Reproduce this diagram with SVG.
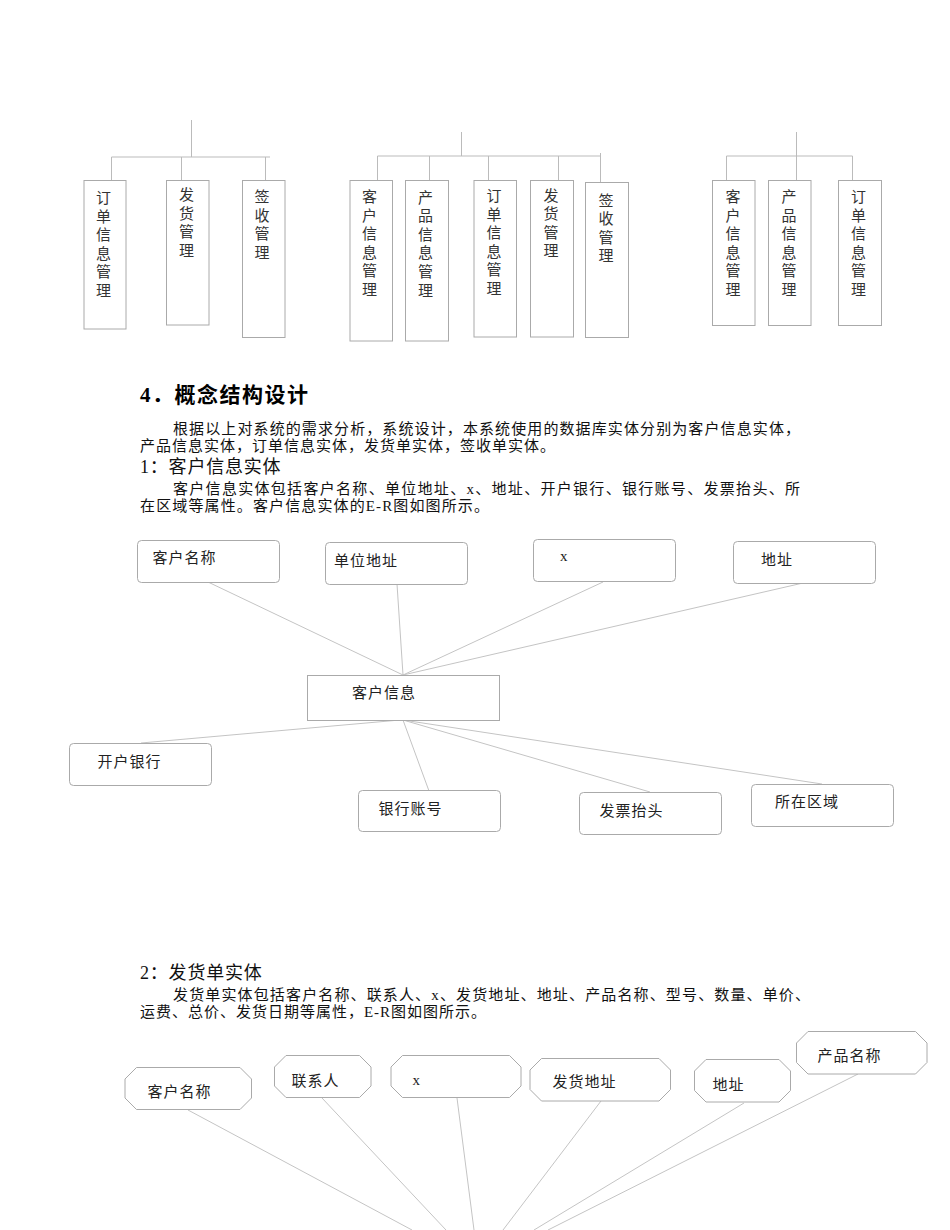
<svg xmlns="http://www.w3.org/2000/svg" width="950" height="1230" viewBox="0 0 950 1230">
<style>
.tl{stroke:#bbbbbb;stroke-width:1;fill:none}
.tb{fill:#fff;stroke:#aaaaaa;stroke-width:1}
.tt{font-family:"Noto Sans CJK SC",sans-serif;font-size:15px;fill:#333;text-anchor:middle}
.eb{fill:#fff;stroke:#aaaaaa;stroke-width:1}
.el{stroke:#c4c4c4;stroke-width:1;fill:none}
.et{font-family:"Liberation Serif","Noto Sans CJK SC",serif;font-size:15px;letter-spacing:1px;fill:#222}
.p{font-family:"Liberation Serif","Noto Sans CJK SC",serif;font-size:15px;letter-spacing:1px;fill:#111}
.h{font-family:"Liberation Serif","Noto Sans CJK SC",serif;font-size:21px;font-weight:bold;letter-spacing:1.5px;fill:#000}
.s{font-family:"Liberation Serif","Noto Sans CJK SC",serif;font-size:18px;letter-spacing:0.8px;fill:#111}
</style>
<rect width="950" height="1230" fill="#fff"/>

<g id="tree-connectors">
<path class="tl" d="M191.5 120V157M111.5 157H270M111.5 157V180M181.5 157V181M265.5 157V180"/>
<path class="tl" d="M461.5 132V156M377.5 156H600.5M377.5 156V180M429.5 156V180M488.5 156V180M558.5 156V181M600.5 153V182"/>
<path class="tl" d="M796.5 132V156M726.5 156H852.5M726.5 156V180M796.5 156V180M852.5 156V180"/>
</g>

<g id="t-l1"><rect class="tb" x="84" y="180.5" width="42" height="148.5"/><text class="tt"><tspan x="103.5" y="203">订</tspan><tspan x="103.5" y="221.6">单</tspan><tspan x="103.5" y="240.2">信</tspan><tspan x="103.5" y="258.8">息</tspan><tspan x="103.5" y="277.4">管</tspan><tspan x="103.5" y="296">理</tspan></text></g>
<g id="t-l2"><rect class="tb" x="166.5" y="180.5" width="42.5" height="144.5"/><text class="tt"><tspan x="186.5" y="200">发</tspan><tspan x="186.5" y="218.6">货</tspan><tspan x="186.5" y="237.2">管</tspan><tspan x="186.5" y="255.8">理</tspan></text></g>
<g id="t-l3"><rect class="tb" x="242.5" y="180.5" width="42.5" height="157"/><text class="tt"><tspan x="262" y="202">签</tspan><tspan x="262" y="220.6">收</tspan><tspan x="262" y="239.2">管</tspan><tspan x="262" y="257.8">理</tspan></text></g>

<g id="t-m1"><rect class="tb" x="350" y="180.5" width="42.5" height="160.5"/><text class="tt"><tspan x="369.5" y="202">客</tspan><tspan x="369.5" y="220.6">户</tspan><tspan x="369.5" y="239.2">信</tspan><tspan x="369.5" y="257.8">息</tspan><tspan x="369.5" y="276.4">管</tspan><tspan x="369.5" y="295">理</tspan></text></g>
<g id="t-m2"><rect class="tb" x="405.5" y="180.5" width="43" height="160.5"/><text class="tt"><tspan x="425.5" y="202.5">产</tspan><tspan x="425.5" y="221.1">品</tspan><tspan x="425.5" y="239.7">信</tspan><tspan x="425.5" y="258.3">息</tspan><tspan x="425.5" y="276.9">管</tspan><tspan x="425.5" y="295.5">理</tspan></text></g>
<g id="t-m3"><rect class="tb" x="474" y="180.5" width="42.5" height="156.5"/><text class="tt"><tspan x="494" y="201">订</tspan><tspan x="494" y="219.6">单</tspan><tspan x="494" y="238.2">信</tspan><tspan x="494" y="256.8">息</tspan><tspan x="494" y="275.4">管</tspan><tspan x="494" y="294">理</tspan></text></g>
<g id="t-m4"><rect class="tb" x="530.5" y="180.5" width="43" height="156.5"/><text class="tt"><tspan x="551" y="200.5">发</tspan><tspan x="551" y="219.1">货</tspan><tspan x="551" y="237.7">管</tspan><tspan x="551" y="256.3">理</tspan></text></g>
<g id="t-m5"><rect class="tb" x="585.5" y="182.5" width="43" height="155"/><text class="tt"><tspan x="606" y="205.5">签</tspan><tspan x="606" y="224.1">收</tspan><tspan x="606" y="242.7">管</tspan><tspan x="606" y="261.3">理</tspan></text></g>

<g id="t-r1"><rect class="tb" x="712.5" y="180.5" width="42.5" height="145"/><text class="tt"><tspan x="733" y="202">客</tspan><tspan x="733" y="220.6">户</tspan><tspan x="733" y="239.2">信</tspan><tspan x="733" y="257.8">息</tspan><tspan x="733" y="276.4">管</tspan><tspan x="733" y="295">理</tspan></text></g>
<g id="t-r2"><rect class="tb" x="768.5" y="180.5" width="42.5" height="145"/><text class="tt"><tspan x="789" y="202">产</tspan><tspan x="789" y="220.6">品</tspan><tspan x="789" y="239.2">信</tspan><tspan x="789" y="257.8">息</tspan><tspan x="789" y="276.4">管</tspan><tspan x="789" y="295">理</tspan></text></g>
<g id="t-r3"><rect class="tb" x="838.5" y="180.5" width="43" height="145"/><text class="tt"><tspan x="858.5" y="202">订</tspan><tspan x="858.5" y="220.6">单</tspan><tspan x="858.5" y="239.2">信</tspan><tspan x="858.5" y="257.8">息</tspan><tspan x="858.5" y="276.4">管</tspan><tspan x="858.5" y="295">理</tspan></text></g>

<g id="text-block">
<text class="h" x="140" y="402">4．概念结构设计</text>
<text class="p" x="173" y="434" textLength="628" lengthAdjust="spacing">根据以上对系统的需求分析，系统设计，本系统使用的数据库实体分别为客户信息实体，</text>
<text class="p" x="140" y="451" textLength="416" lengthAdjust="spacing">产品信息实体，订单信息实体，发货单实体，签收单实体。</text>
<text class="s" x="140" y="473">1：客户信息实体</text>
<text class="p" x="173" y="494" textLength="628" lengthAdjust="spacing">客户信息实体包括客户名称、单位地址、x、地址、开户银行、银行账号、发票抬头、所</text>
<text class="p" x="140" y="511" textLength="350" lengthAdjust="spacing">在区域等属性。客户信息实体的E-R图如图所示。</text>
<text class="s" x="140" y="979">2：发货单实体</text>
<text class="p" x="173" y="1000" textLength="638" lengthAdjust="spacing">发货单实体包括客户名称、联系人、x、发货地址、地址、产品名称、型号、数量、单价、</text>
<text class="p" x="140" y="1017" textLength="347" lengthAdjust="spacing">运费、总价、发货日期等属性，E-R图如图所示。</text>
</g>

<g id="er1-connectors">
<path class="el" d="M208 582L403 675M397 584L403 675M603 582L403 675M803 583L403 675"/>
<path class="el" d="M400 720L141 743M403 720L429 791M403 720L650 792M403 720L822 784"/>
</g>
<g id="e1-name"><rect class="eb" x="137.5" y="540.5" width="142" height="42" rx="4"/><text class="et" x="152.5" y="563">客户名称</text></g>
<g id="e1-unit"><rect class="eb" x="325.5" y="542.5" width="142" height="42" rx="4"/><text class="et" x="334" y="566">单位地址</text></g>
<g id="e1-x"><rect class="eb" x="533.5" y="539.5" width="142" height="42" rx="4"/><text class="et" x="560" y="561">x</text></g>
<g id="e1-addr"><rect class="eb" x="733.5" y="541.5" width="142" height="42" rx="4"/><text class="et" x="761" y="565">地址</text></g>
<g id="e1-hub"><rect class="eb" x="307.5" y="675.5" width="192" height="45"/><text class="et" x="352" y="698">客户信息</text></g>
<g id="e1-bank"><rect class="eb" x="69.5" y="743.5" width="142" height="42" rx="4"/><text class="et" x="97.5" y="767">开户银行</text></g>
<g id="e1-acct"><rect class="eb" x="358.5" y="790.5" width="142" height="41" rx="4"/><text class="et" x="378.5" y="814">银行账号</text></g>
<g id="e1-inv"><rect class="eb" x="579.5" y="792.5" width="142" height="42" rx="4"/><text class="et" x="599.5" y="816">发票抬头</text></g>
<g id="e1-area"><rect class="eb" x="751.5" y="784.5" width="142" height="42" rx="4"/><text class="et" x="775" y="807">所在区域</text></g>

<g id="er2-connectors">
<path class="el" d="M188 1110L412 1230M322 1098L446 1230M457 1098L474 1230M601 1101L503 1230M744 1103L534 1230M858 1074L548 1230"/>
</g>
<g id="e2-name"><polygon class="eb" points="136.5,1067.5 240,1067.5 251.5,1079 251.5,1098 240,1109.5 136.5,1109.5 125,1098 125,1079"/><text class="et" x="147.5" y="1097">客户名称</text></g>
<g id="e2-contact"><polygon class="eb" points="286,1055.5 359.5,1055.5 371,1067 371,1086 359.5,1097.5 286,1097.5 274.5,1086 274.5,1067"/><text class="et" x="291.5" y="1085.5">联系人</text></g>
<g id="e2-x"><polygon class="eb" points="402.5,1055.5 509.5,1055.5 521,1067 521,1086 509.5,1097.5 402.5,1097.5 391,1086 391,1067"/><text class="et" x="412.5" y="1085">x</text></g>
<g id="e2-ship"><polygon class="eb" points="541.5,1058.5 659,1058.5 670.5,1070 670.5,1089.5 659,1101 541.5,1101 530,1089.5 530,1070"/><text class="et" x="552.5" y="1087">发货地址</text></g>
<g id="e2-addr"><polygon class="eb" points="706,1059.5 779,1059.5 790.5,1071 790.5,1090.5 779,1102 706,1102 694.5,1090.5 694.5,1071"/><text class="et" x="712.5" y="1090">地址</text></g>
<g id="e2-prod"><polygon class="eb" points="808,1031.5 915.5,1031.5 927,1043 927,1062.5 915.5,1074 808,1074 796.5,1062.5 796.5,1043"/><text class="et" x="817.5" y="1060.5">产品名称</text></g>
</svg>
